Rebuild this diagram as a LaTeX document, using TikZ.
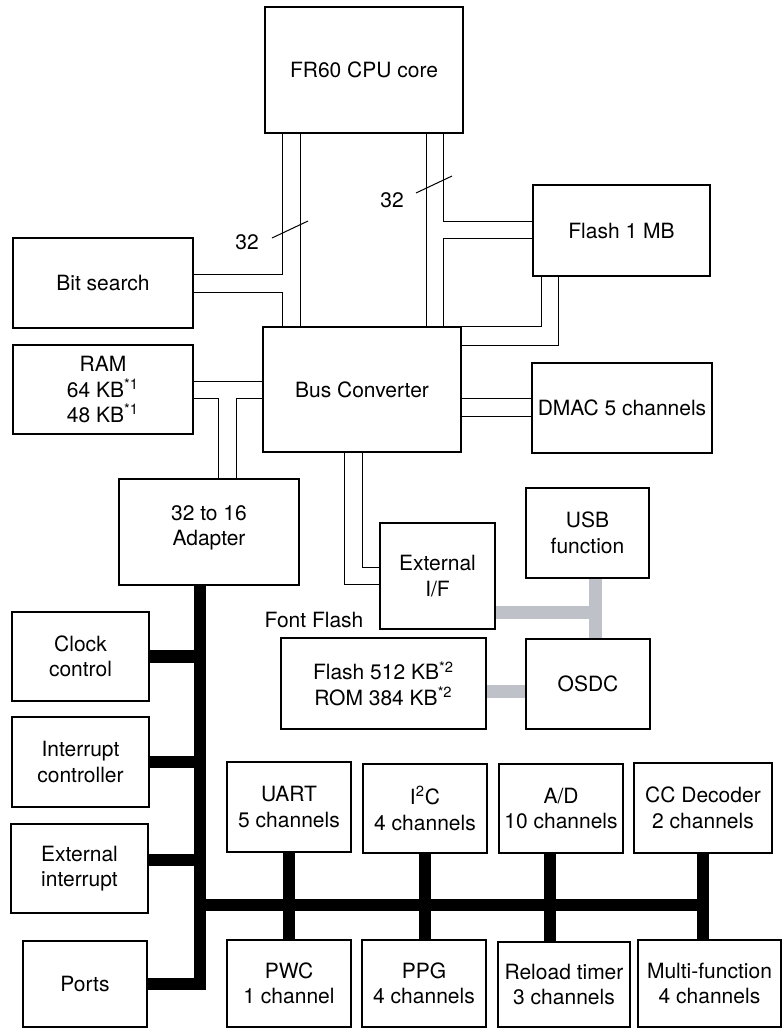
\documentclass[tikz,border=0pt]{standalone}
\usepackage{fontspec}
\setmainfont{TeX Gyre Heros}
\usetikzlibrary{calc}
\definecolor{usbgray}{RGB}{190,193,199}
\tikzset{
  blk/.style={draw, line width=0.9pt, align=center, inner sep=1pt, font=\fontsize{10.5}{12.7}\selectfont},
  txt/.style={inner sep=0pt, font=\fontsize{10.5}{12.7}\selectfont},
  bus/.style={line width=0.5pt},
  pbus/.style={line width=6.3pt},
  gbus/.style={line width=6.5pt, draw=usbgray},
}

\begin{document}
\begin{tikzpicture}[x=0.5pt, y=-0.5pt]
\useasboundingbox (0,0) rectangle (783,1029);

% CPU side
\node[blk, minimum width=99pt, minimum height=63pt] (cpu) at (364,70) {FR60 CPU core};
\node[blk, minimum width=88.5pt, minimum height=45.5pt] (flash) at (621.5,230.5) {Flash 1 MB};
\node[blk, minimum width=90pt, minimum height=45pt] (bitsrch) at (103,283) {Bit search};
\node[blk, minimum width=90pt, minimum height=44.5pt] (ram) at (103,389.5) {RAM\\64 KB\textsuperscript{*1}\\48 KB\textsuperscript{*1}};
\node[blk, minimum width=99pt, minimum height=62.5pt] (busconv) at (362,389.5) {Bus Converter};
\node[blk, minimum width=90pt, minimum height=45pt] (dmac) at (622,408) {DMAC 5 channels};
\node[blk, minimum width=90pt, minimum height=53pt] (adapter) at (209,532) {32 to 16\\Adapter\\[-6pt]};

% external / display side
\node[blk, minimum width=57.5pt, minimum height=53pt] (extif) at (437.5,576) {External\\I/F};
\node[blk, minimum width=61.5pt, minimum height=45pt] (usb) at (587.5,533) {USB\\function};
\node[blk, minimum width=102.5pt, minimum height=45.5pt] (fflash) at (383.5,683.5) {Flash 512 KB\textsuperscript{*2}\\ROM 384 KB\textsuperscript{*2}};
\node[txt] (fflbl) at (314,620) {Font Flash};
\node[blk, minimum width=62pt, minimum height=45pt] (osdc) at (588,684) {OSDC};

% peripherals
\node[blk, minimum width=68.5pt, minimum height=44.5pt] (clock) at (80.5,656.5) {Clock\\control};
\node[blk, minimum width=68.5pt, minimum height=45pt] (intc) at (80.5,762) {Interrupt\\controller};
\node[blk, minimum width=68.5pt, minimum height=44.5pt] (extint) at (79.5,868.5) {External\\interrupt};
\node[blk, minimum width=62pt, minimum height=43pt] (ports) at (85,984) {Ports};
\node[blk, minimum width=62pt, minimum height=45pt] (uart) at (289,807) {UART\\5 channels};
\node[blk, minimum width=62pt, minimum height=44.5pt] (i2c) at (425,808.5) {I\textsuperscript{2}C\\4 channels};
\node[blk, minimum width=62pt, minimum height=44.5pt] (ad) at (561,808.5) {A/D\\10 channels};
\node[blk, minimum width=69pt, minimum height=45pt] (cc) at (703,808) {CC Decoder\\2 channels};
\node[blk, minimum width=62pt, minimum height=43.5pt] (pwc) at (289,983.5) {PWC\\1 channel};
\node[blk, minimum width=62pt, minimum height=43.5pt] (ppg) at (424,983.5) {PPG\\4 channels};
\node[blk, minimum width=66pt, minimum height=42.5pt] (reload) at (564,984.5) {Reload timer\\3 channels};
\node[blk, minimum width=71.5pt, minimum height=43.5pt] (multi) at (709.5,983.5) {Multi-function\\4 channels};

% 32 bit buses
\coordinate (lbus1) at (282,274);
\coordinate (lbus2) at (282,292);
\coordinate (lbus3) at (300,0);
\draw[bus] (cpu.south -| lbus1) -- (lbus1) -- (lbus1 -| bitsrch.east);
\draw[bus] (bitsrch.east |- lbus2) -- (lbus2) -- (lbus2 |- busconv.north);
\draw[bus] (cpu.south -| lbus3) -- (busconv.north -| lbus3);
\draw[bus] (272,238) -- (308,221);
\node[txt] (lw1) at (247,242) {32};

\coordinate (rbus1) at (426,0);
\coordinate (rbus2) at (443,221);
\coordinate (rbus3) at (443,238);
\draw[bus] (cpu.south -| rbus1) -- (busconv.north -| rbus1);
\draw[bus] (cpu.south -| rbus2) |- (flash.west |- rbus2);
\draw[bus] (flash.west |- rbus3) -| (busconv.north -| rbus3);
\draw[bus] (416,193) -- (452,176);
\node[txt] (lw2) at (392,200) {32};

\coordinate (fl1) at (541,327);
\coordinate (fl2) at (558,345);
\draw[bus] (flash.south -| fl1) |- (busconv.north east);
\draw[bus] (flash.south -| fl2) |- (busconv.east |- fl2);

\coordinate (dm1) at (0,398);
\coordinate (dm2) at (0,416);
\draw[bus] (busconv.east |- dm1) -- (dmac.west |- dm1);
\draw[bus] (busconv.east |- dm2) -- (dmac.west |- dm2);

\coordinate (rm1) at (0,381);
\coordinate (rm2) at (218,398);
\coordinate (rm3) at (236,398);
\draw[bus] (ram.east |- rm1) -- (busconv.west |- rm1);
\draw[bus] (ram.east |- rm2) -| (adapter.north -| rm2);
\draw[bus] (busconv.west |- rm3) -| (adapter.north -| rm3);

\coordinate (ex1) at (362,567);
\coordinate (ex2) at (344,584);
\draw[bus] (busconv.south -| ex1) |- (extif.west |- ex1);
\draw[bus] (busconv.south -| ex2) |- (extif.west |- ex2);

% USB / OSD links
\coordinate (gx) at (595,612);
\coordinate (go) at (0,691);
\draw[gbus] (usb.south -| gx) -- (osdc.north -| gx);
\draw[gbus] (extif.east |- gx) -- (gx);
\draw[gbus] (fflash.east |- go) -- (osdc.west |- go);

% 16 bit peripheral bus
\coordinate (pv) at (200,0);
\coordinate (hb) at (0,905);
\draw[pbus] (adapter.south -| pv) -- (pv |- ports.east) -- (ports.east);
\draw[pbus] (clock.east) -- (clock.east -| pv);
\draw[pbus] (intc.east) -- (intc.east -| pv);
\draw[pbus] ([yshift=4.25pt]extint.east) -- ([yshift=4.25pt]extint.east -| pv);
\draw[pbus] (pv |- hb) -- (hb -| cc.south);
\draw[pbus] (uart.south) -- (uart.south |- pwc.north);
\draw[pbus] (i2c.south) -- (i2c.south |- ppg.north);
\draw[pbus] ([xshift=-5.5pt]ad.south) -- ([xshift=-5.5pt]ad.south |- reload.north);
\draw[pbus] (cc.south) -- (cc.south |- multi.north);

\end{tikzpicture}
\end{document}
